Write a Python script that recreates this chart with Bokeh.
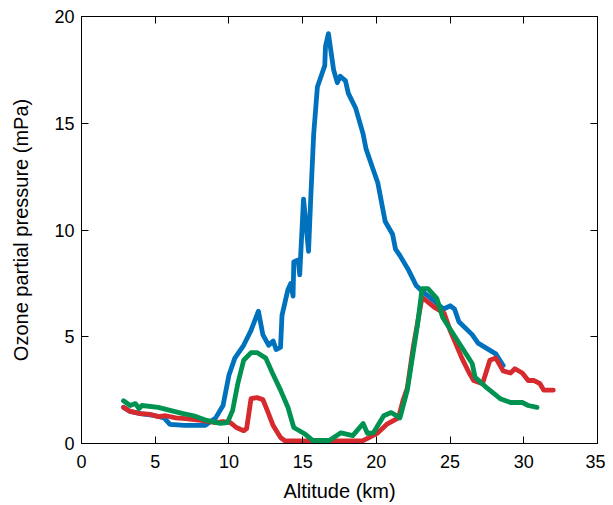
from bokeh.plotting import figure
from bokeh.models import LinearAxis, Range1d, FixedTicker
from bokeh.embed import file_html
from bokeh.resources import INLINE

# Blue series
blue_x = [2.85, 3.3, 4.0, 5.0, 5.6, 6.0, 7.0, 8.4, 9.1, 9.6, 10.0, 10.4, 11.0, 11.5, 12.0,
          12.3, 12.7, 13.0, 13.2, 13.5, 13.6, 14.0, 14.2, 14.35, 14.4, 14.7, 14.8, 15.06,
          15.4, 15.55, 15.75, 16.0, 16.35, 16.5, 16.55, 16.75, 17.1, 17.35, 17.55, 17.9,
          18.1, 18.6, 19.1, 19.3, 19.7, 20.1, 20.6, 21.1, 21.3, 21.6, 22.2, 22.7, 23.0,
          23.7, 24.56, 25.0, 25.3, 25.6, 26.5, 26.9, 28.1, 28.6]
blue_y = [1.7, 1.5, 1.4, 1.3, 1.2, 0.9, 0.85, 0.85, 1.2, 1.78, 3.2, 4.0, 4.6, 5.3, 6.2,
          5.1, 4.6, 4.8, 4.4, 4.5, 6.0, 7.2, 7.5, 6.9, 8.5, 8.6, 7.9, 11.45,
          9.0, 11.5, 14.5, 16.7, 17.4, 17.7, 18.6, 19.2, 17.5, 16.9, 17.2, 17.0,
          16.4, 15.7, 14.5, 13.8, 13.0, 12.2, 10.4, 9.8, 9.1, 8.8, 8.1, 7.4, 7.2,
          6.8, 6.3, 6.45, 6.3, 5.7, 5.1, 4.7, 4.2, 3.65]

# Red series
red_x = [2.85, 3.3, 4.0, 4.7, 5.2, 5.7, 6.4, 7.06, 8.1, 9.1, 9.6, 10.1, 10.5, 11.0, 11.2,
         11.5, 11.9, 12.3, 12.6, 13.0, 13.5, 13.8, 19.06, 19.5, 20.1, 20.75, 21.5, 21.8,
         22.1, 22.5, 23.1, 23.9, 24.6, 25.0, 25.8, 26.3, 26.6, 27.2, 27.7, 28.1, 28.6,
         29.1, 29.4, 29.9, 30.3, 30.7, 31.1, 31.35, 32.0]
red_y = [1.69, 1.5, 1.4, 1.36, 1.26, 1.3, 1.2, 1.17, 1.08, 0.98, 1.03, 0.98, 0.75, 0.6, 0.7,
         2.1, 2.15, 2.06, 1.55, 0.84, 0.28, 0.12, 0.12, 0.28, 0.5, 0.92, 1.2, 2.0,
         2.6, 4.5, 6.85, 6.4, 6.1, 5.3, 4.0, 3.3, 2.95, 2.8, 3.9, 4.0, 3.4,
         3.3, 3.5, 3.3, 2.95, 2.95, 2.8, 2.5, 2.5]

# Green series
green_x = [2.85, 3.3, 3.66, 3.9, 4.1, 5.2, 6.0, 6.9, 7.6, 8.5, 9.4, 9.9, 10.25, 10.6, 11.0,
           11.5, 11.9, 12.5, 12.95, 13.5, 14.0, 14.4, 15.1, 15.7, 16.8, 17.6, 18.4, 19.1,
           19.4, 19.8, 20.5, 21.0, 21.6, 22.1, 22.8, 23.1, 23.5, 24.1, 24.5, 26.5, 26.7,
           27.5, 28.4, 29.1, 29.9, 30.3, 30.9]
green_y = [2.0, 1.78, 1.87, 1.64, 1.78, 1.69, 1.55, 1.4, 1.3, 1.08, 0.94, 0.98, 1.55, 2.8, 3.9,
           4.26, 4.26, 4.0, 3.3, 2.5, 1.7, 0.75, 0.47, 0.14, 0.14, 0.5, 0.37, 0.94,
           0.47, 0.5, 1.3, 1.45, 1.2, 2.5, 5.6, 7.25, 7.25, 6.8, 5.9, 3.75, 3.1,
           2.6, 2.1, 1.92, 1.92, 1.78, 1.69]

x_ticks = [0, 5, 10, 15, 20, 25, 30, 35]
y_ticks = [0, 5, 10, 15, 20]

FONT = "Liberation Sans"

p = figure(width=605, height=505, output_backend="svg", toolbar_location=None,
           x_range=Range1d(0, 35), y_range=Range1d(0, 20),
           min_border_left=81, min_border_right=8, min_border_top=16, min_border_bottom=62)
p.grid.visible = False
p.outline_line_color = "black"
p.outline_line_width = 1
p.background_fill_color = "white"
p.border_fill_color = "white"

for ax, ticks in ((p.xaxis[0], x_ticks), (p.yaxis[0], y_ticks)):
    ax.ticker = FixedTicker(ticks=ticks)
    ax.major_tick_in = 7
    ax.major_tick_out = 0
    ax.minor_tick_in = 0
    ax.minor_tick_out = 0
    ax.axis_line_color = "black"
    ax.major_tick_line_color = "black"
    ax.major_label_text_font = FONT
    ax.major_label_text_font_size = "18px"
    ax.major_label_text_color = "black"
    ax.axis_label_text_font = FONT
    ax.axis_label_text_font_size = "20px"
    ax.axis_label_text_font_style = "normal"
    ax.axis_label_text_color = "black"

p.xaxis.axis_label = "Altitude (km)"
p.yaxis.axis_label = "Ozone partial pressure (mPa)"
p.xaxis.major_label_standoff = 11
p.yaxis.major_label_standoff = 7
p.xaxis.axis_label_standoff = 9
p.yaxis.axis_label_standoff = 19

for loc, ticks in (("above", x_ticks), ("right", y_ticks)):
    ax = LinearAxis(ticker=FixedTicker(ticks=ticks))
    ax.major_tick_in = 7
    ax.major_tick_out = 0
    ax.minor_tick_in = 0
    ax.minor_tick_out = 0
    ax.major_label_overrides = {t: "" for t in ticks}
    ax.major_label_standoff = 0
    ax.axis_line_color = "black"
    ax.major_tick_line_color = "black"
    p.add_layout(ax, loc)

W = 4.8
p.line(blue_x, blue_y, line_color="#0072BD", line_width=W, line_join="round", line_cap="round")
p.line(red_x, red_y, line_color="#D62A2E", line_width=W, line_join="round", line_cap="round")
p.line(green_x, green_y, line_color="#009250", line_width=W, line_join="round", line_cap="round")

open("out.html", "w").write(file_html(p, INLINE))
